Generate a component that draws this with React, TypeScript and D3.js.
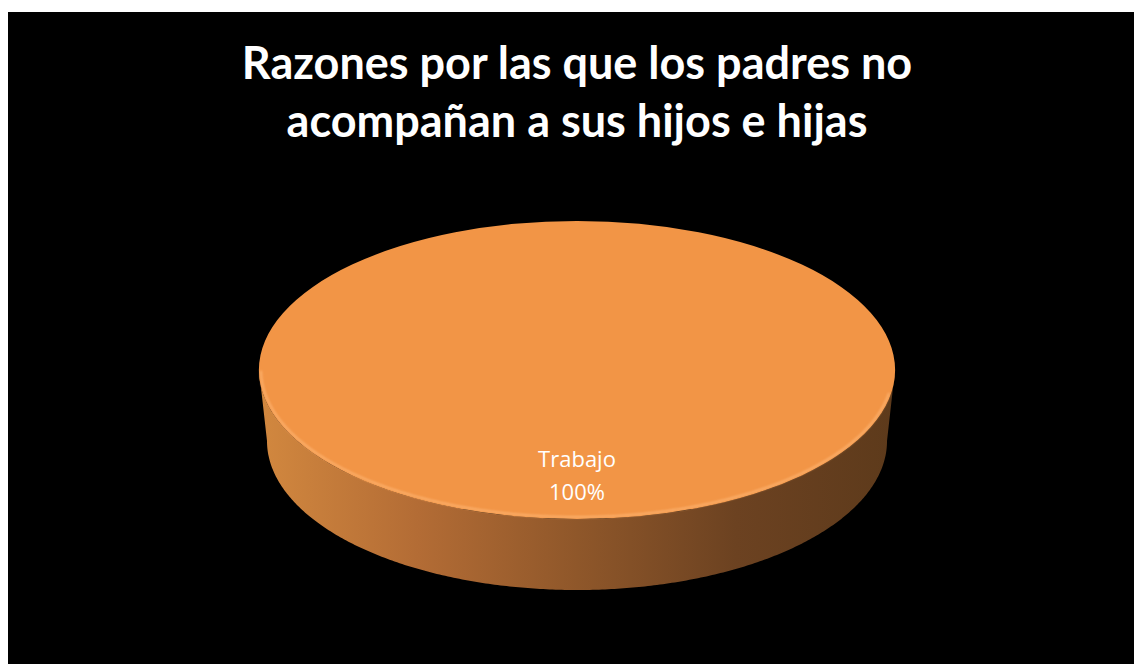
import React, { useEffect, useRef } from 'react';
import * as d3 from 'd3';

const categories: string[] = ['Trabajo'];
const values: number[] = [100];
const titleLines: string[] = ['Razones por las que los padres no', 'acompañan a sus hijos e hijas'];

const width = 1134;
const height = 664;

export default function App() {
  const ref = useRef<SVGSVGElement | null>(null);

  useEffect(() => {
    draw();
  }, []);

  function draw() {
    const svg = d3.select(ref.current);
    svg.selectAll('*').remove();

    const defs = svg.append('defs');
    const grad = defs.append('linearGradient')
      .attr('id', 'sideGrad')
      .attr('gradientUnits', 'userSpaceOnUse')
      .attr('x1', 259).attr('x2', 895)
      .attr('y1', 0).attr('y2', 0);
    grad.append('stop').attr('offset', '0%').attr('stop-color', '#d2883f');
    grad.append('stop').attr('offset', '25%').attr('stop-color', '#b36c35');
    grad.append('stop').attr('offset', '50%').attr('stop-color', '#8f572a');
    grad.append('stop').attr('offset', '75%').attr('stop-color', '#6c4221');
    grad.append('stop').attr('offset', '100%').attr('stop-color', '#5d3a1b');

    defs.append('filter').attr('id', 'soft')
      .append('feGaussianBlur').attr('stdDeviation', 1.2);

    svg.append('rect')
      .attr('x', 0).attr('y', 0)
      .attr('width', width).attr('height', height)
      .attr('fill', '#ffffff');

    svg.append('rect')
      .attr('x', 8).attr('y', 12)
      .attr('width', width - 8).attr('height', height - 12)
      .attr('fill', '#000000');

    // title
    svg.append('g')
      .selectAll('text')
      .data(titleLines)
      .enter()
      .append('text')
      .attr('x', 577)
      .attr('y', (d, i) => 79 + i * 58)
      .attr('text-anchor', 'middle')
      .attr('fill', '#ffffff')
      .style('font-family', 'Lato, "Open Sans", sans-serif')
      .style('font-weight', 700)
      .style('font-size', '45px')
      .text((d) => d);

    // 3D pie geometry
    const cx = 577;
    const cy = 370;
    const rx = 318;
    const ry = 149;
    const bcx = 577;
    const bcy = 441;
    const brx = 310;
    const bry = 149;

    const pie = d3.pie<number>().sort(null)(values);
    const arc = d3.arc<d3.PieArcDatum<number>>().innerRadius(0).outerRadius(rx);
    const labelArc = d3.arc<d3.PieArcDatum<number>>().innerRadius(rx * 0.65).outerRadius(rx * 0.65);

    const g = svg.append('g');

    // side wall: front half of each slice
    const line = d3.line<[number, number]>();
    pie.forEach((p) => {
      const a0 = Math.max(p.startAngle, Math.PI / 2);
      const a1 = Math.min(p.endAngle, Math.PI * 1.5);
      if (a1 <= a0) return;
      const angles = d3.range(a0, a1, 0.01).concat([a1]);
      const topPts: [number, number][] = angles.map((a) => [cx + rx * Math.sin(a), cy - ry * Math.cos(a)]);
      const botPts: [number, number][] = angles.slice().reverse()
        .map((a) => [bcx + brx * Math.sin(a), bcy - bry * Math.cos(a)]);
      g.append('path')
        .attr('d', line(topPts.concat(botPts))! + 'Z')
        .attr('fill', 'url(#sideGrad)');
    });

    // top faces
    g.selectAll('.slice')
      .data(pie)
      .enter()
      .append('path')
      .attr('class', 'slice')
      .attr('transform', `translate(${cx},${cy}) scale(1,${ry / rx})`)
      .attr('d', (d) => arc(d)!)
      .attr('fill', '#f29546');

    // bevel highlight on front rim
    const rimAngles = d3.range(Math.PI * 0.55, Math.PI * 1.5, 0.01);
    g.append('path')
      .attr('d', line(rimAngles.map((a) => [cx + (rx - 2) * Math.sin(a), cy - (ry - 2) * Math.cos(a)] as [number, number]))!)
      .attr('fill', 'none')
      .attr('stroke', '#ffb877')
      .attr('stroke-width', 2)
      .attr('opacity', 0.8)
      .attr('filter', 'url(#soft)');

    // labels
    pie.forEach((p, i) => {
      const [lx, ly] = labelArc.centroid(p);
      const t = g.append('text')
        .attr('x', cx + lx)
        .attr('y', cy + ly * (ry / rx))
        .attr('text-anchor', 'middle')
        .attr('fill', '#ffffff')
        .style('font-family', '"Open Sans", sans-serif')
        .style('font-size', '22px');
      t.append('tspan').attr('x', cx + lx).attr('dy', 0).text(categories[i]);
      t.append('tspan').attr('x', cx + lx).attr('dy', 33).text(`${d3.format('.0f')(p.data)}%`);
    });
  }

  return (
    <svg
      ref={ref}
      width={width}
      height={height}
      style={{ position: 'absolute', left: 0, top: 0, display: 'block' }}
    />
  );
}
